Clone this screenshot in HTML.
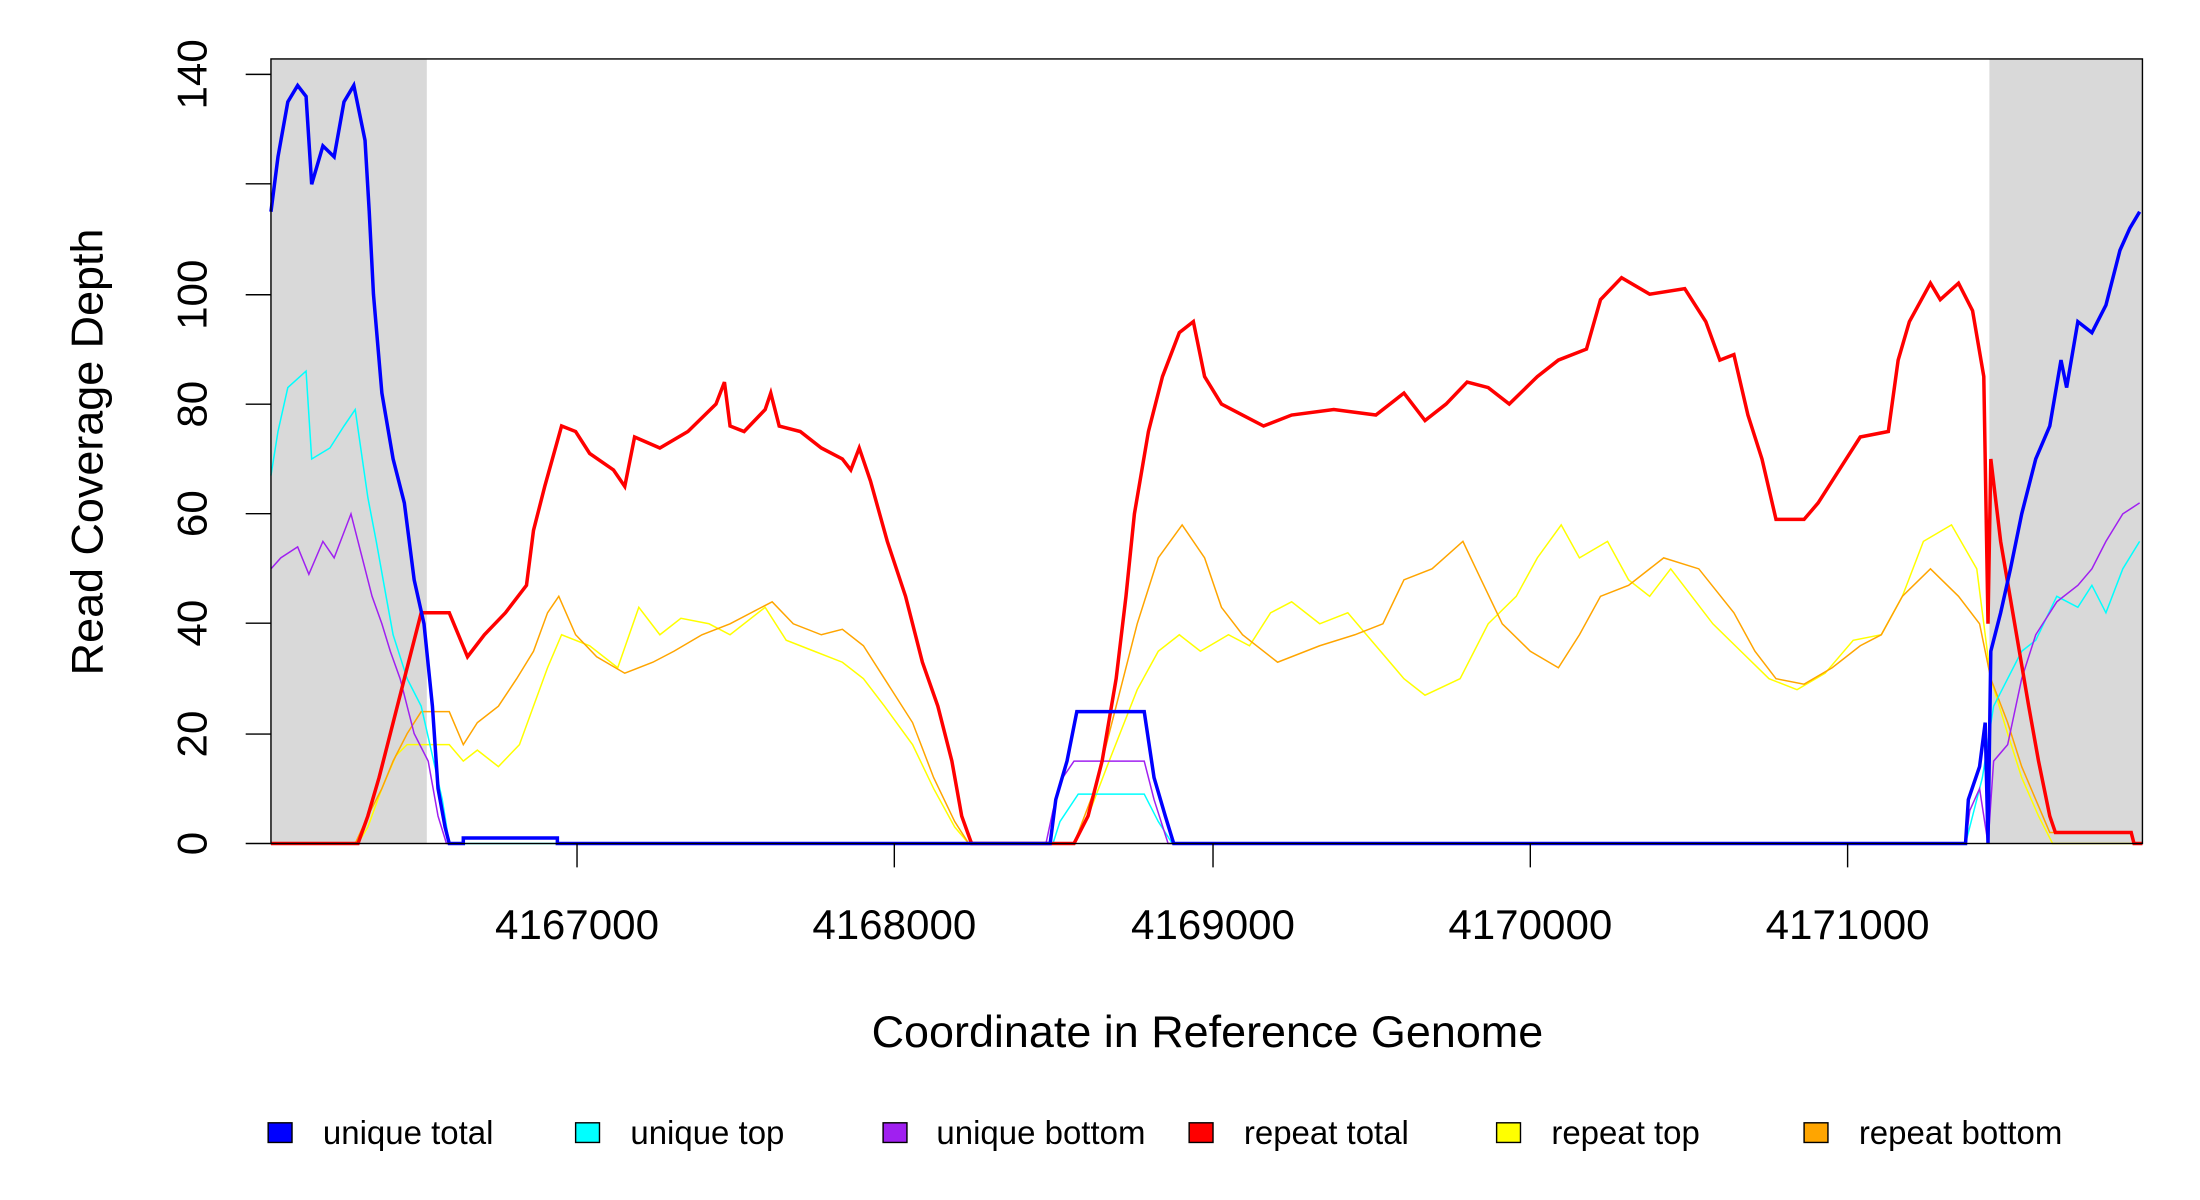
<!DOCTYPE html>
<html><head><meta charset="utf-8"><style>
html,body{margin:0;padding:0;background:#fff;}
svg{display:block;}
text{font-family:"Liberation Sans",sans-serif;fill:#000;}
</style></head><body>
<svg width="2200" height="1200" viewBox="0 0 1567 855" preserveAspectRatio="none" xmlns="http://www.w3.org/2000/svg">
<rect x="193" y="42" width="111" height="559" fill="#d9d9d9"/>
<rect x="1417" y="42" width="109" height="559" fill="#d9d9d9"/>
<g transform="translate(0,601) scale(1,-3.914)" fill="none" stroke-linejoin="miter">
<polyline vector-effect="non-scaling-stroke" stroke="#ffff00" stroke-width="1.5" points="193,0 255,0 262,3 272,10 282,16 290,18 320,18 330,15 340,17 355,14 370,18 380,25 390,32 400,38 420,36 440,32 455,43 470,38 485,41 505,40 520,38 545,43 560,37 580,35 600,33 615,30 630,25 650,18 665,10 680,3 690,0 765,0 775,5 790,15 810,28 825,35 840,38 855,35 875,38 890,36 905,42 920,44 940,40 960,42 980,36 1000,30 1015,27 1040,30 1060,40 1080,45 1095,52 1112,58 1125,52 1145,55 1160,48 1175,45 1190,50 1205,45 1220,40 1240,35 1260,30 1280,28 1300,31 1320,37 1340,38 1355,45 1370,55 1390,58 1408,50 1413,40 1418,30 1430,20 1440,12 1452,5 1462,0 1526,0"/>
<polyline vector-effect="non-scaling-stroke" stroke="#ffa500" stroke-width="1.5" points="193,0 253,0 262,5 272,10 280,15 290,20 300,24 320,24 330,18 340,22 355,25 368,30 380,35 390,42 398,45 410,38 425,34 445,31 465,33 480,35 500,38 520,40 550,44 565,40 585,38 600,39 615,36 630,30 650,22 665,12 680,4 690,0 765,0 780,10 795,25 810,40 825,52 842,58 858,52 870,43 885,38 910,33 940,36 965,38 985,40 1000,48 1020,50 1042,55 1055,48 1070,40 1090,35 1110,32 1125,38 1140,45 1160,47 1185,52 1210,50 1235,42 1250,35 1265,30 1285,29 1305,32 1325,36 1340,38 1355,45 1375,50 1395,45 1410,40 1418,30 1430,22 1440,14 1450,8 1460,2 1518,2 1520,0 1526,0"/>
<polyline vector-effect="non-scaling-stroke" stroke="#00ffff" stroke-width="1.5" points="193,67 198,75 205,83 218,86 222,70 235,72 245,76 253,79 262,63 268,55 275,45 280,38 290,30 300,25 308,16 315,8 320,0 750,0 755,4 768,9 815,9 825,4 835,0 1400,0 1405,5 1412,12 1420,25 1430,30 1440,35 1450,37 1465,45 1480,43 1490,47 1500,42 1512,50 1524,55"/>
<polyline vector-effect="non-scaling-stroke" stroke="#a020f0" stroke-width="1.5" points="193,50 200,52 212,54 220,49 230,55 238,52 250,60 258,52 265,45 272,40 278,35 285,30 295,20 305,15 312,5 318,0 330,0 330,1 397,1 397,0 745,0 750,6 757,12 765,15 815,15 822,8 832,0 1400,0 1403,6 1410,10 1416,0 1420,15 1430,18 1440,30 1450,38 1465,44 1480,47 1490,50 1500,55 1512,60 1524,62"/>
<polyline vector-effect="non-scaling-stroke" stroke="#ff0000" stroke-width="3.5" points="193,0 255,0 262,5 270,12 280,22 290,32 300,42 320,42 333,34 345,38 360,42 375,47 380,57 388,65 400,76 410,75 420,71 437,68 445,65 452,74 470,72 490,75 510,80 516,84 520,76 530,75 545,79 549,82 555,76 570,75 585,72 600,70 606,68 612,72 620,66 632,55 645,45 657,33 668,25 678,15 685,5 692,0 765,0 775,5 785,15 795,30 802,45 808,60 818,75 828,85 840,93 850,95 858,85 870,80 885,78 900,76 920,78 950,79 980,78 1000,82 1015,77 1030,80 1045,84 1060,83 1075,80 1095,85 1110,88 1130,90 1140,99 1155,103 1175,100 1200,101 1215,95 1225,88 1235,89 1245,78 1255,70 1265,59 1285,59 1295,62 1305,66 1315,70 1325,74 1345,75 1352,88 1360,95 1375,102 1382,99 1395,102 1405,97 1413,85 1416,40 1418,70 1425,55 1435,40 1445,25 1452,15 1460,5 1464,2 1518,2 1520,0 1526,0"/>
<polyline vector-effect="non-scaling-stroke" stroke="#0000ff" stroke-width="3.5" points="193,115 198,125 205,135 212,138 218,136 222,120 230,127 238,125 245,135 252,138 260,128 263,115 266,100 272,82 280,70 288,62 295,48 302,40 308,25 312,10 317,3 320,0 330,0 330,1 397,1 397,0 748,0 752,8 760,15 767,24 815,24 822,12 830,5 836,0 1400,0 1402,8 1410,14 1414,22 1416,0 1418,35 1425,42 1432,50 1440,60 1450,70 1460,76 1468,88 1472,83 1480,95 1490,93 1500,98 1510,108 1517,112 1524,115"/>
</g>
<rect x="193" y="42" width="1333" height="559" fill="none" stroke="#000" stroke-width="1"/>
<g stroke="#000" stroke-width="1">
<line x1="175" y1="601" x2="193" y2="601"/><line x1="175" y1="523" x2="193" y2="523"/><line x1="175" y1="444" x2="193" y2="444"/><line x1="175" y1="366" x2="193" y2="366"/><line x1="175" y1="288" x2="193" y2="288"/><line x1="175" y1="210" x2="193" y2="210"/><line x1="175" y1="131" x2="193" y2="131"/><line x1="175" y1="53" x2="193" y2="53"/>
<line x1="411" y1="601" x2="411" y2="618"/><line x1="637" y1="601" x2="637" y2="618"/><line x1="864" y1="601" x2="864" y2="618"/><line x1="1090" y1="601" x2="1090" y2="618"/><line x1="1316" y1="601" x2="1316" y2="618"/>
</g>
<g font-size="30" text-anchor="middle">
<text transform="translate(147,601) rotate(-90)">0</text>
<text transform="translate(147,523) rotate(-90)">20</text>
<text transform="translate(147,444) rotate(-90)">40</text>
<text transform="translate(147,366) rotate(-90)">60</text>
<text transform="translate(147,288) rotate(-90)">80</text>
<text transform="translate(147,210) rotate(-90)">100</text>
<text transform="translate(147,53) rotate(-90)">140</text>
<text x="411" y="669">4167000</text>
<text x="637" y="669">4168000</text>
<text x="864" y="669">4169000</text>
<text x="1090" y="669">4170000</text>
<text x="1316" y="669">4171000</text>
<text x="860" y="746" font-size="32">Coordinate in Reference Genome</text>
<text transform="translate(73,322) rotate(-90)" font-size="32">Read Coverage Depth</text>
</g>
<g stroke="#000" stroke-width="1">
<rect x="191" y="800" width="17" height="14" fill="#0000ff"/>
<rect x="410" y="800" width="17" height="14" fill="#00ffff"/>
<rect x="629" y="800" width="17" height="14" fill="#a020f0"/>
<rect x="847" y="800" width="17" height="14" fill="#ff0000"/>
<rect x="1066" y="800" width="17" height="14" fill="#ffff00"/>
<rect x="1285" y="800" width="17" height="14" fill="#ffa500"/>
</g>
<g font-size="23.5">
<text x="230" y="815">unique total</text>
<text x="449" y="815">unique top</text>
<text x="667" y="815">unique bottom</text>
<text x="886" y="815">repeat total</text>
<text x="1105" y="815">repeat top</text>
<text x="1324" y="815">repeat bottom</text>
</g>
</svg>
</body></html>
